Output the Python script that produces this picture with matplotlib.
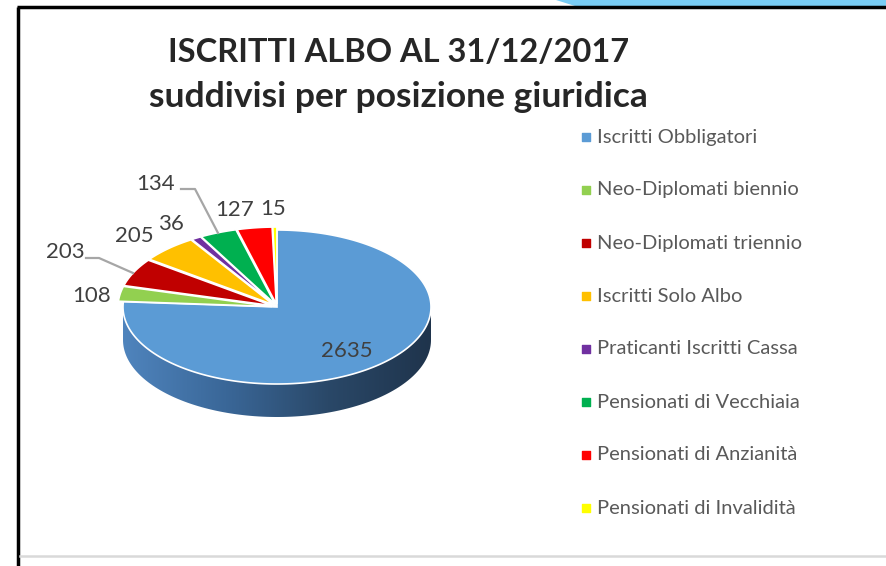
import numpy as np
import matplotlib.pyplot as plt
from matplotlib.patches import Polygon
from matplotlib.colors import LinearSegmentedColormap

categories = ['Iscritti Obbligatori', 'Neo-Diplomati biennio', 'Neo-Diplomati triennio',
              'Iscritti Solo Albo', 'Praticanti Iscritti Cassa', 'Pensionati di Vecchiaia',
              'Pensionati di Anzianità', 'Pensionati di Invalidità']
values = [2635, 108, 203, 205, 36, 134, 127, 15]
colors = ['#5B9BD5', '#92D050', '#C00000', '#FFC000', '#7030A0', '#00B050', '#FF0000', '#FFFF00']

# layout (pixel coords, y down)
cx, cy, rx, ry, depth = 277, 307, 154, 77, 33
explode = [0, 5, 5, 5, 5, 5, 5, 5]
label_pos = [(347, 351), (92, 296), (65, 252), (134, 236), (171, 224),
             (156, 184), (235, 210), (273, 209)]
leaders = {2: [(86, 258), (99, 258), (133, 273)],
           5: [(181, 189), (195, 189), (218, 233)]}

plt.rcParams['font.family'] = ['Lato', 'DejaVu Sans']
fig = plt.figure(figsize=(8.87, 5.66), dpi=100)
ax = fig.add_axes([0, 0, 1, 1])
ax.set_xlim(0, 887)
ax.set_ylim(566, 0)
ax.axis('off')

def pt(t, dx=0, dy=0, down=0):
    r = np.radians(t)
    return cx + dx + rx * np.cos(r), cy + dy - ry * np.sin(r) + down

total = sum(values)
start = 90.0
slices = []
for v in values:
    sweep = 360.0 * v / total
    slices.append((start, start - sweep))
    start -= sweep

# side wall of the front half (belongs to the big blue slice)
ts = np.linspace(0, -180, 120)
top = [pt(t) for t in ts]
bot = [pt(t, down=depth) for t in ts[::-1]]
side = Polygon(top + bot, closed=True, facecolor='none', edgecolor='none')
ax.add_patch(side)
grad = np.linspace(0, 1, 256).reshape(1, -1)
cmap = LinearSegmentedColormap.from_list('side', ['#4F84BD', '#3A6798', '#2A4868', '#1F344C'])
im = ax.imshow(grad, extent=[cx - rx, cx + rx, cy + ry + depth, cy], cmap=cmap,
               aspect='auto', zorder=1)
im.set_clip_path(side)
ax.set_xlim(0, 887)
ax.set_ylim(566, 0)

# top faces
for i, ((a, b), col) in enumerate(zip(slices, colors)):
    mid = np.radians((a + b) / 2)
    dx = explode[i] * np.cos(mid)
    dy = -explode[i] * np.sin(mid) * 0.6
    ts = np.linspace(a, b, max(int(abs(a - b)) + 2, 4))
    pts = [(cx + dx, cy + dy)] + [pt(t, dx, dy) for t in ts]
    ax.add_patch(Polygon(pts, closed=True, facecolor=col, edgecolor='white',
                         linewidth=1.2, zorder=2))

# data labels
for i, v in enumerate(values):
    x, y = label_pos[i]
    ax.text(x, y, str(v), fontsize=16, color='#404040', ha='center', va='center', zorder=4)
for i, line in leaders.items():
    xs, ys = zip(*line)
    ax.plot(xs, ys, color='#A6A6A6', linewidth=1.6, zorder=3)

# title
ax.text(399, 52, 'ISCRITTI ALBO AL 31/12/2017', fontsize=23.5, fontweight='bold',
        color='#262626', ha='center', va='center')
ax.text(398, 97, 'suddivisi per posizione giuridica', fontsize=25.5, fontweight='bold',
        color='#262626', ha='center', va='center')

# legend
for i, (name, col) in enumerate(zip(categories, colors)):
    y = 137 + i * 53
    ax.scatter([586], [y], marker='s', s=28, color=col, zorder=3)
    ax.text(597, y, name, fontsize=14.5, color='#595959', ha='left', va='center')

# frame / slide decoration
ax.plot([18, 18], [566, 7], color='black', linewidth=2.5, solid_capstyle='butt')
ax.plot([17, 887], [7, 7], color='black', linewidth=2.5, solid_capstyle='butt')
ax.add_patch(Polygon([(556, 0), (887, 0), (887, 5.5), (575, 5.5)], closed=True,
                     facecolor='#79CCF4', edgecolor='none'))
ax.plot([20, 887], [556, 556], color='#D9D9D9', linewidth=1.8)

fig.savefig('out.png', dpi=100)
